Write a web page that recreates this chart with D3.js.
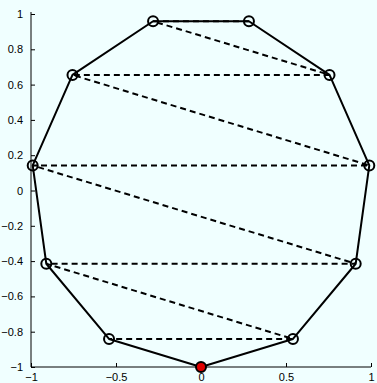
<!DOCTYPE html>
<html>
<head>
<meta charset="utf-8">
<script src="https://cdn.jsdelivr.net/npm/d3@7"></script>
<style>
  html, body { margin: 0; padding: 0; background: #f0ffff; }
  svg { display: block; }
  text { font-family: "Liberation Sans", Arial, Helvetica, sans-serif; font-size: 11px; fill: #000; }
</style>
</head>
<body>
<svg id="chart" width="377" height="383"></svg>
<script>
// Vertices of the polygon, counter-clockwise from the bottom point
const vertexX = [0, 0.541, 0.910, 0.990, 0.756, 0.282, -0.282, -0.756, -0.990, -0.910, -0.541];
const vertexY = [-1, -0.841, -0.415, 0.142, 0.655, 0.959, 0.959, 0.655, 0.142, -0.415, -0.841];
// Order in which the dashed zigzag visits the vertices
const zigzagOrder = [5, 6, 4, 7, 3, 8, 2, 9, 1, 10];
// Highlighted start vertex
const startIndex = 0;
// Axis ticks
const xTicks = [-1, -0.5, 0, 0.5, 1];
const yTicks = [-1, -0.8, -0.6, -0.4, -0.2, 0, 0.2, 0.4, 0.6, 0.8, 1];

const svg = d3.select("#chart");
const plot = { left: 31, right: 371, top: 14, bottom: 367 };

const x = d3.scaleLinear().domain([-1, 1]).range([plot.left, plot.right]);
const y = d3.scaleLinear().domain([-1, 1]).range([plot.bottom, plot.top]);

const fmt = v => (v < 0 ? "\u2212" : "") + String(Math.abs(v));

// Axes with inward ticks
const xAxis = d3.axisBottom(x).tickValues(xTicks).tickSize(-4).tickPadding(8).tickFormat(fmt);
const yAxis = d3.axisLeft(y).tickValues(yTicks).tickSize(-4).tickPadding(8).tickFormat(fmt);

const gx = svg.append("g").attr("transform", `translate(0,${plot.bottom})`).call(xAxis);
const gy = svg.append("g").attr("transform", `translate(${plot.left},0)`).call(yAxis);
gx.select(".domain").attr("d", `M${plot.left},0H${plot.right}`);
gy.select(".domain").attr("d", `M0,${plot.top - 2}V${plot.bottom}`);
[gx, gy].forEach(g => {
  g.select(".domain").attr("stroke", "#000").attr("stroke-width", 1);
  g.selectAll(".tick line").attr("stroke", "#000");
  g.selectAll("text").attr("font-size", 11).attr("fill", "#000")
    .style("font-family", "'Liberation Sans', Arial, sans-serif");
});
gx.selectAll(".tick text").attr("dy", "0.5em");

const pts = vertexX.map((vx, i) => [vx, vertexY[i]]);

// Polygon outline
const line = d3.line().x(d => x(d[0])).y(d => y(d[1]));
svg.append("path")
  .attr("d", line(pts.concat([pts[0]])))
  .attr("fill", "none").attr("stroke", "#000").attr("stroke-width", 2)
  .attr("stroke-linejoin", "round");

// Dashed zigzag through the interior
svg.append("path")
  .attr("d", line(zigzagOrder.map(i => pts[i])))
  .attr("fill", "none").attr("stroke", "#000").attr("stroke-width", 2)
  .attr("stroke-dasharray", "6,4");

// Vertex markers
svg.append("g").selectAll("circle").data(pts).join("circle")
  .attr("cx", d => x(d[0])).attr("cy", d => y(d[1])).attr("r", 5)
  .attr("fill", (d, i) => i === startIndex ? "#e00000" : "none")
  .attr("stroke", "#000").attr("stroke-width", 2);
</script>
</body>
</html>
